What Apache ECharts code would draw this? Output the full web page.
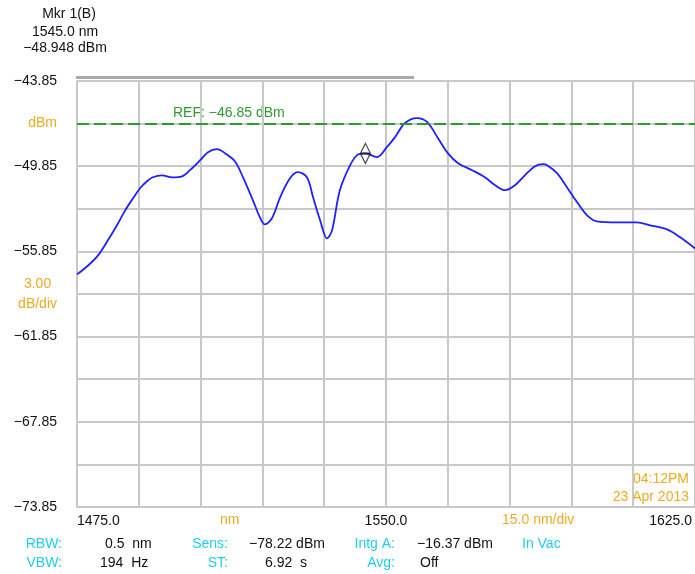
<!DOCTYPE html>
<html lang="en">
<head>
    <meta charset="UTF-8">
    <script type="text/javascript" src="https://cdn.jsdelivr.net/npm/echarts@6.0.0/dist/echarts.min.js"></script>
    <title>OSA trace</title>
    <style>
        html, body { margin: 0; padding: 0; background: #ffffff; }
        #osaChart { width: 695px; height: 574px; }
    </style>
</head>
<body>

<div id="osaChart"></div>

<script>
    // trace (nm / dBm)
    var wavelength = [1475.0, 1477.7, 1480.1, 1482.5, 1484.7, 1486.7, 1488.6, 1490.3, 1492.0, 1493.4,
        1495.6, 1498.1, 1500.5, 1502.4, 1504.9, 1506.8, 1509.0, 1510.9, 1513.3, 1515.3,
        1517.7, 1519.4, 1520.6, 1522.3, 1524.3, 1526.7, 1528.6, 1530.8, 1532.3, 1534.0,
        1535.7, 1536.9, 1538.8, 1541.3, 1543.0, 1545.0, 1547.8, 1550.2, 1552.2, 1554.6,
        1557.5, 1560.0, 1562.6, 1565.0, 1567.5, 1570.9, 1574.0, 1576.5, 1578.9, 1581.3,
        1583.7, 1586.2, 1588.1, 1589.1, 1591.5, 1593.9, 1596.4, 1598.8, 1601.2, 1606.1,
        1610.9, 1614.1, 1618.2, 1621.4, 1625.0];
    var power = [-57.47, -56.84, -56.13, -55.07, -54.01, -52.96, -52.11, -51.40, -50.91, -50.63,
        -50.49, -50.63, -50.56, -50.13, -49.43, -48.86, -48.65, -48.93, -49.50, -50.63,
        -52.25, -53.45, -53.94, -53.52, -52.04, -50.70, -50.27, -50.63, -52.04, -53.66,
        -54.93, -54.37, -51.54, -49.78, -49.07, -48.95, -49.21, -48.51, -47.80, -46.81,
        -46.46, -46.74, -47.87, -48.93, -49.64, -50.13, -50.63, -51.19, -51.54, -51.19,
        -50.49, -49.85, -49.71, -49.78, -50.34, -51.33, -52.39, -53.31, -53.73, -53.80,
        -53.80, -54.01, -54.30, -54.86, -55.64];

    var markerWl = [1545.0];
    var markerPw = [-48.948];
    var refLevel = -46.85;

    var xTicks = [1475, 1490, 1505, 1520, 1535, 1550, 1565, 1580, 1595, 1610, 1625];
    var xLabels = [1475, 1550, 1625];
    var yTicks = [-73.85, -70.85, -67.85, -64.85, -61.85, -58.85, -55.85, -52.85, -49.85, -46.85, -43.85];
    var yLabels = [-73.85, -67.85, -61.85, -55.85, -49.85, -43.85];

    var gridColor = '#c8c8c8';
    var orange = '#eeaa22';
    var cyan = '#22ccee';
    var font = '"Liberation Sans", Arial, sans-serif';

    function near(a, b) {
        return Math.abs(a - b) < 0.001;
    }

    function minus(v, digits) {
        return (v < 0 ? '\u2212' : '') + Math.abs(v).toFixed(digits);
    }

    var trace = [];
    for (var i = 0; i < wavelength.length; i++) {
        trace.push([wavelength[i], power[i]]);
    }
    var marker = [];
    for (var j = 0; j < markerWl.length; j++) {
        marker.push([markerWl[j], markerPw[j]]);
    }

    // x,y = anchor point, text aligned around it
    function txt(x, y, text, color, align) {
        return {
            type: 'text', x: x, y: y, silent: true,
            style: {
                text: text, fill: color, font: '14px ' + font,
                align: align || 'left', verticalAlign: 'middle'
            }
        };
    }

    var mCharts = echarts.init(document.getElementById('osaChart'));

    var option = {
        animation: false,
        textStyle: { fontFamily: font },
        grid: { left: 77, right: 0, top: 81, bottom: 67, outerBoundsMode: 'none', containLabel: false },
        xAxis: {
            type: 'value',
            min: 1475,
            max: 1625,
            axisLine: { show: true, lineStyle: { color: gridColor, width: 2 } },
            axisTick: { show: false, customValues: xTicks },
            splitLine: { show: true, lineStyle: { color: gridColor, width: 2 } },
            axisLabel: {
                customValues: xLabels,
                margin: 7,
                color: '#111',
                fontSize: 14,
                alignMinLabel: 'left',
                alignMaxLabel: 'right',
                formatter: function (v) {
                    if (near(v, 1625)) return '{r|' + v.toFixed(1) + '}';
                    return v.toFixed(1);
                },
                rich: {
                    r: { color: '#111', fontSize: 14, padding: [0, 3, 0, 0] }
                }
            }
        },
        yAxis: {
            type: 'value',
            min: -73.85,
            max: -43.85,
            axisLine: { show: true, lineStyle: { color: gridColor, width: 2 } },
            axisTick: { show: false, customValues: yTicks },
            splitLine: { show: true, lineStyle: { color: gridColor, width: 2 } },
            axisLabel: {
                customValues: yTicks,
                margin: 20,
                color: '#111',
                fontSize: 14,
                formatter: function (v) {
                    if (near(v, refLevel)) return '{o|dBm}';
                    if (near(v, -58.85)) return '{c|3.00}\n{o|dB/div}';
                    for (var k = 0; k < yLabels.length; k++) {
                        if (near(v, yLabels[k])) return minus(v, 2);
                    }
                    return '';
                },
                rich: {
                    o: { color: orange, fontSize: 14, lineHeight: 20 },
                    c: { color: orange, fontSize: 14, lineHeight: 20, align: 'center' }
                }
            }
        },
        series: [
            {
                type: 'line',
                data: trace,
                smooth: 0.35,
                showSymbol: false,
                lineStyle: { color: '#1f1fff', width: 1.8 },
                markLine: {
                    silent: true,
                    symbol: 'none',
                    label: { show: false },
                    lineStyle: { color: '#2e9a2e', width: 2, type: [12, 5] },
                    data: [{ yAxis: refLevel }]
                },
                z: 3
            },
            {
                type: 'scatter',
                data: marker,
                symbol: 'path://M5,0 L10,10 L5,20 L0,10 Z M0,10 L10,10',
                symbolSize: [10, 20],
                itemStyle: { color: 'rgba(0,0,0,0)', borderColor: '#222', borderWidth: 1.4 },
                z: 4
            }
        ],
        graphic: [
            // scroll bar on top of the screen
            { type: 'rect', x: 76, y: 76, shape: { width: 338, height: 3 }, style: { fill: '#aaaaaa' }, silent: true },

            txt(69, 14, 'Mkr 1(B)', '#111', 'center'),
            txt(65, 32, '1545.0 nm', '#111', 'center'),
            txt(65, 48, minus(markerPw[0], 3) + ' dBm', '#111', 'center'),

            txt(173, 113, 'REF: ' + minus(refLevel, 2) + ' dBm', '#2e9a2e'),

            txt(220, 520, 'nm', orange),
            txt(502, 520, '15.0 nm/div', orange),

            txt(689, 479, '04:12PM', orange, 'right'),
            txt(689, 497, '23 Apr 2013', orange, 'right'),

            txt(62, 544, 'RBW:', cyan, 'right'),
            txt(105, 544, '0.5  nm', '#111'),
            txt(228, 544, 'Sens:', cyan, 'right'),
            txt(249, 544, minus(-78.22, 2) + ' dBm', '#111'),
            txt(395, 544, 'Intg A:', cyan, 'right'),
            txt(417, 544, minus(-16.37, 2) + ' dBm', '#111'),
            txt(522, 544, 'In Vac', cyan),

            txt(62, 563, 'VBW:', cyan, 'right'),
            txt(100, 563, '194  Hz', '#111'),
            txt(228, 563, 'ST:', cyan, 'right'),
            txt(265, 563, '6.92  s', '#111'),
            txt(395, 563, 'Avg:', cyan, 'right'),
            txt(420, 563, 'Off', '#111')
        ]
    };

    mCharts.setOption(option);
</script>

</body>
</html>
